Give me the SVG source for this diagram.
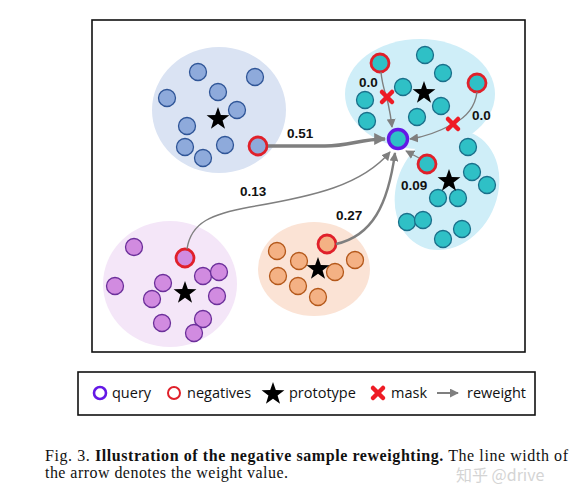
<svg xmlns="http://www.w3.org/2000/svg" width="574" height="496" viewBox="0 0 574 496">
<style>
.bl{fill:#8eaadb;stroke:#2f5597;stroke-width:1.3}
.cy{fill:#2fc0c6;stroke:#1a6f8a;stroke-width:1.3}
.pu{fill:#d18be0;stroke:#6b2f9a;stroke-width:1.3}
.or{fill:#f4b184;stroke:#b4581a;stroke-width:1.3}
.neg{stroke:#e0202a;stroke-width:2.8}
.q{stroke:#6418e6;stroke-width:3.4}
.lbl{font-family:"Liberation Sans",Arial,sans-serif;font-weight:bold;font-size:13.5px;fill:#111}
.arr{fill:none;stroke:#7f7f7f}
.x{stroke:#ee1c25;stroke-width:4.5;stroke-linecap:round}
.leg{font-family:"Open Sans","Liberation Sans",sans-serif;font-size:14.5px;fill:#111}
.cap{font-family:"Liberation Serif","Times New Roman",serif;font-size:16px;fill:#111}
</style>
<defs>
<polygon id="star" points="0,-12 2.82,-3.88 11.41,-3.71 4.57,1.48 7.05,9.71 0,4.8 -7.05,9.71 -4.57,1.48 -11.41,-3.71 -2.82,-3.88" fill="#000"/>
<marker id="ah" viewBox="0 0 10 10" refX="9" refY="5" markerWidth="12" markerHeight="12" orient="auto" markerUnits="userSpaceOnUse">
<path d="M0,0 L10,5 L0,10 z" fill="#7f7f7f"/>
</marker>
<marker id="ahs" viewBox="0 0 10 10" refX="9" refY="5" markerWidth="9" markerHeight="9" orient="auto" markerUnits="userSpaceOnUse">
<path d="M0,0 L10,5 L0,10 z" fill="#7f7f7f"/>
</marker>
<g id="xm"><line class="x" x1="-5" y1="-5" x2="5" y2="5"/><line class="x" x1="5" y1="-5" x2="-5" y2="5"/></g>
</defs>
<rect x="0" y="0" width="574" height="496" fill="#fff"/>
<rect x="92" y="20" width="433" height="332" fill="none" stroke="#111" stroke-width="1.6"/>

<g id="cluster-blue">
<ellipse cx="219" cy="110" rx="67" ry="63" fill="#dae3f3"/>
<circle class="bl" cx="198" cy="72" r="8.5"/>
<circle class="bl" cx="255" cy="77" r="8.5"/>
<circle class="bl" cx="167" cy="98" r="8.5"/>
<circle class="bl" cx="218" cy="92" r="8.5"/>
<circle class="bl" cx="237" cy="110" r="8.5"/>
<circle class="bl" cx="187" cy="126" r="8.5"/>
<circle class="bl" cx="185" cy="147" r="8.5"/>
<circle class="bl" cx="203" cy="158" r="8.5"/>
<circle class="bl" cx="225" cy="145" r="8.5"/>
<circle class="bl neg" cx="258" cy="146" r="9"/>
<use href="#star" x="218" y="119"/>
</g>

<g id="cluster-cyan">
<ellipse cx="420" cy="94" rx="75" ry="55" fill="#cfeef8"/>
<ellipse cx="447" cy="190" rx="50" ry="62" transform="rotate(25 447 190)" fill="#cfeef8"/>
<circle class="cy" cx="425" cy="55" r="8.5"/>
<circle class="cy" cx="443" cy="73" r="8.5"/>
<circle class="cy neg" cx="380" cy="63" r="9"/>
<circle class="cy" cx="403" cy="87" r="8.5"/>
<circle class="cy" cx="365" cy="100" r="8.5"/>
<circle class="cy" cx="367" cy="121" r="8.5"/>
<circle class="cy" cx="417" cy="117" r="8.5"/>
<circle class="cy" cx="441" cy="106" r="8.5"/>
<circle class="cy neg" cx="477" cy="83" r="9"/>
<use href="#star" x="424" y="93"/>
<circle class="cy" cx="468" cy="147" r="8.5"/>
<circle class="cy neg" cx="427" cy="164" r="9"/>
<circle class="cy" cx="472" cy="172" r="8.5"/>
<circle class="cy" cx="487" cy="185" r="8.5"/>
<circle class="cy" cx="438" cy="198" r="8.5"/>
<circle class="cy" cx="458" cy="198" r="8.5"/>
<circle class="cy" cx="407" cy="222" r="8.5"/>
<circle class="cy" cx="423" cy="220" r="8.5"/>
<circle class="cy" cx="443" cy="239" r="8.5"/>
<circle class="cy" cx="462" cy="229" r="8.5"/>
<use href="#star" x="449" y="181"/>
</g>

<g id="cluster-purple">
<ellipse cx="170" cy="284" rx="67" ry="63" fill="#f4e6f8"/>
<circle class="pu" cx="134" cy="247" r="8.5"/>
<circle class="pu" cx="115" cy="286" r="8.5"/>
<circle class="pu" cx="163" cy="283" r="8.5"/>
<circle class="pu" cx="152" cy="299" r="8.5"/>
<circle class="pu" cx="203" cy="276" r="8.5"/>
<circle class="pu" cx="219" cy="272" r="8.5"/>
<circle class="pu" cx="217" cy="296" r="8.5"/>
<circle class="pu" cx="162" cy="323" r="8.5"/>
<circle class="pu" cx="203" cy="319" r="8.5"/>
<circle class="pu" cx="194" cy="333" r="8.5"/>
<circle class="pu neg" cx="185" cy="258" r="9"/>
<use href="#star" x="185" y="293"/>
</g>

<g id="cluster-orange">
<ellipse cx="314" cy="269" rx="56" ry="47" fill="#fbe3d5"/>
<circle class="or" cx="277" cy="251" r="8.5"/>
<circle class="or" cx="299" cy="261" r="8.5"/>
<circle class="or" cx="355" cy="260" r="8.5"/>
<circle class="or" cx="335" cy="272" r="8.5"/>
<circle class="or" cx="278" cy="276" r="8.5"/>
<circle class="or" cx="298" cy="286" r="8.5"/>
<circle class="or" cx="318" cy="297" r="8.5"/>
<circle class="or neg" cx="327" cy="244" r="9"/>
<use href="#star" x="318" y="269"/>
</g>

<g id="connectors">
<path class="arr" stroke-width="3.4" d="M268,146 L325,146 C350,146 360,139 385,139" marker-end="url(#ah)"/>
<path class="arr" stroke-width="1.4" d="M187,249 C191,222 212,214 250,207 C315,196 362,185 390,152" marker-end="url(#ahs)"/>
<path class="arr" stroke-width="2.4" d="M336,244 C372,236 388,205 395,153" marker-end="url(#ahs)"/>
<path class="arr" stroke-width="1.4" d="M419,158 L406,151" marker-end="url(#ahs)"/>
<path class="arr" stroke-width="1.4" d="M381,72 C382,85 386,95 388,103 C390,112 391,118 392,127" marker-end="url(#ahs)"/>
<path class="arr" stroke-width="1.4" d="M477,92 C475,108 465,118 453,124 C440,131 425,137 410,139" marker-end="url(#ahs)"/>
<use href="#xm" x="387" y="97"/>
<use href="#xm" x="453" y="124"/>
</g>

<g id="query">
<circle class="cy q" cx="398" cy="139" r="9.5"/>
</g>

<g id="labels">
<text class="lbl" x="287" y="138">0.51</text>
<text class="lbl" x="240" y="196">0.13</text>
<text class="lbl" x="336" y="220">0.27</text>
<text class="lbl" x="401" y="190">0.09</text>
<text class="lbl" x="359" y="87">0.0</text>
<text class="lbl" x="472" y="120">0.0</text>
</g>

<g id="legend">
<rect x="78" y="372" width="457" height="43" fill="#fff" stroke="#111" stroke-width="1.6"/>
<circle cx="100" cy="393" r="6" fill="none" stroke="#6418e6" stroke-width="2.6"/>
<text class="leg" x="112" y="398">query</text>
<circle cx="174" cy="393" r="6" fill="none" stroke="#e0202a" stroke-width="2"/>
<text class="leg" x="187" y="398">negatives</text>
<use href="#star" x="273" y="394"/>
<text class="leg" x="289" y="398">prototype</text>
<use href="#xm" x="378" y="393"/>
<text class="leg" x="391" y="398">mask</text>
<line class="arr" x1="437" y1="393" x2="458" y2="393" stroke-width="2" marker-end="url(#ahs)"/>
<text class="leg" x="467" y="398">reweight</text>
</g>

<g id="caption">
<text class="cap" x="45" y="461" textLength="523" lengthAdjust="spacing"><tspan>Fig. 3.  </tspan><tspan font-weight="bold">Illustration of the negative sample reweighting.</tspan><tspan> The line width of</tspan></text>
<text class="cap" x="45" y="478" textLength="243" lengthAdjust="spacing">the arrow denotes the weight value.</text>
<text x="456" y="481" font-family="'Noto Sans CJK SC','Liberation Sans',sans-serif" font-size="16" fill="#d4d4d4">知乎 @drive</text>
</g>
</svg>
